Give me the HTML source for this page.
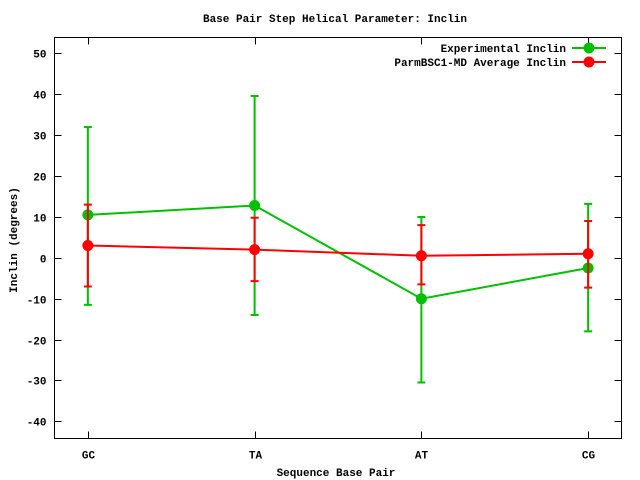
<!DOCTYPE html>
<html><head><meta charset="utf-8"><style>
body{margin:0;background:#fff}
svg{display:block}
text{font-family:"Liberation Mono",monospace;font-size:11px;font-weight:bold;fill:#000}
</style></head><body>
<svg id="chart" width="640" height="480" xmlns="http://www.w3.org/2000/svg">
<rect width="640" height="480" fill="#fff"/>
<text x="335" y="22" text-anchor="middle">Base Pair Step Helical Parameter: Inclin</text>
<text x="336" y="476" text-anchor="middle">Sequence Base Pair</text>
<text transform="translate(17,240) rotate(-90)" text-anchor="middle">Inclin (degrees)</text>
<g id="axes"></g>
<g id="series"></g>
<g id="legend"></g>
</svg>
<script>
const categories=["GC","TA","AT","CG"];
const yTicks=[50,40,30,20,10,0,-10,-20,-30,-40];
const expValues=[10.5,12.8,-10,-2.5];
const expLow=[-11.5,-14,-30.5,-18];
const expHigh=[32,39.6,10,13.2];
const mdValues=[3,2,0.5,1];
const mdLow=[-7,-5.7,-6.5,-7.3];
const mdHigh=[13,9.8,8,9];
const seriesNames=["Experimental Inclin","ParmBSC1-MD Average Inclin"];

const L=54.5,R=621.5,T=37.5,B=438.5;
const xMin=-0.2,xMax=3.2,yMin=-44.2,yMax=53.9;
const X=i=>L+(i-xMin)/(xMax-xMin)*(R-L);
const Y=v=>B-(v-yMin)/(yMax-yMin)*(B-T);
const NS="http://www.w3.org/2000/svg";
function mk(tag,attrs,parent){const e=document.createElementNS(NS,tag);for(const k in attrs)e.setAttribute(k,attrs[k]);parent.appendChild(e);return e;}
const axes=document.getElementById('axes');
const frame=mk('rect',{x:L,y:T,width:R-L,height:B-T,fill:'none',stroke:'#000','stroke-width':1},axes);


yTicks.forEach(v=>{
  const y=Math.round(Y(v))+0.5;
  const t=mk('path',{d:`M${L},${y}h7M${R},${y}h-7`,stroke:'#000'},axes);
  
  
  const lb=mk('text',{x:L-8,y:y+4,'text-anchor':'end'},axes);lb.textContent=v;
  
  
});
categories.forEach((c,i)=>{
  const x=Math.round(X(i))+0.5;
  const t=mk('path',{d:`M${x},${B}v-7M${x},${T}v7`,stroke:'#000'},axes);
  
  
  const lb=mk('text',{x:x,y:B+20,'text-anchor':'middle'},axes);lb.textContent=c;
  
  
});
const sg=document.getElementById('series');
function drawSeries(vals,lo,hi,color,name){
  const g=mk('g',{},sg);
  
  
  const line=mk('polyline',{points:vals.map((v,i)=>X(i)+','+Y(v)).join(' '),fill:'none',stroke:color,'stroke-width':2},g);
  
  
  vals.forEach((v,i)=>{
    const x=X(i);
    const eb=mk('path',{d:`M${x},${Y(lo[i])}V${Y(hi[i])}M${x-4},${Y(lo[i])}h8M${x-4},${Y(hi[i])}h8`,stroke:color,'stroke-width':2,fill:'none'},g);
    
    
    const p=mk('circle',{cx:x,cy:Y(v),r:5.5,fill:color},g);
    
    
  });
}
drawSeries(expValues,expLow,expHigh,'#00c000','experimental-series');
drawSeries(mdValues,mdLow,mdHigh,'#ff0000','md-series');
const lg=document.getElementById('legend');
[['#00c000',48],['#ff0000',62]].forEach((s,k)=>{
  const t=mk('text',{x:566,y:s[1]+4,'text-anchor':'end'},lg);t.textContent=seriesNames[k];
  
  
  const l=mk('path',{d:`M572,${s[1]}h34`,stroke:s[0],'stroke-width':2},lg);
  
  
  const c=mk('circle',{cx:589,cy:s[1],r:5.5,fill:s[0]},lg);
  
  
});
</script>
</body></html>
